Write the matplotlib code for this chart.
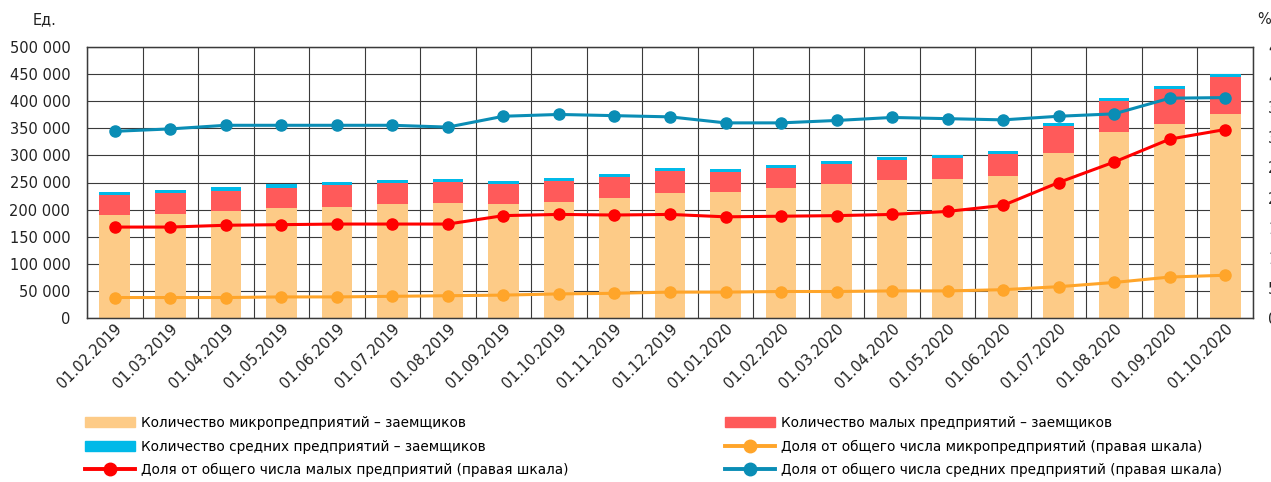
import matplotlib.pyplot as plt
import numpy as np
from matplotlib.ticker import FuncFormatter
from matplotlib.patches import Patch
from matplotlib.lines import Line2D
from matplotlib.transforms import ScaledTranslation

dates = ['01.02.2019', '01.03.2019', '01.04.2019', '01.05.2019', '01.06.2019',
         '01.07.2019', '01.08.2019', '01.09.2019', '01.10.2019', '01.11.2019',
         '01.12.2019', '01.01.2020', '01.02.2020', '01.03.2020', '01.04.2020',
         '01.05.2020', '01.06.2020', '01.07.2020', '01.08.2020', '01.09.2020',
         '01.10.2020']

# количество заемщиков, ед.
micro = [190000, 192400, 197400, 202400, 205400, 209800, 212700, 209800, 214600, 222000,
         231200, 232500, 239300, 246700, 254100, 256500, 262000, 303900, 343700, 357400, 377000]
small = [37500, 37700, 37500, 38000, 39400, 38700, 37700, 38000, 38700, 38200,
         39500, 37400, 37500, 38000, 37400, 39300, 41100, 49800, 56700, 64600, 67100]
medium = [5500, 6100, 6800, 6800, 5600, 6100, 6100, 5500, 5600, 5500,
          5500, 5600, 4900, 5000, 5600, 5500, 5600, 5500, 5500, 6000, 6700]

# доли, %
share_micro = [3.4, 3.4, 3.4, 3.5, 3.5, 3.6, 3.7, 3.8, 4.0, 4.1, 4.3,
               4.3, 4.4, 4.4, 4.5, 4.5, 4.7, 5.2, 5.9, 6.8, 7.1]
share_small = [15.1, 15.1, 15.4, 15.5, 15.6, 15.6, 15.6, 17.0, 17.2, 17.1, 17.2,
               16.8, 16.9, 17.0, 17.2, 17.7, 18.7, 22.5, 25.9, 29.7, 31.3]
share_medium = [31.0, 31.4, 32.0, 32.0, 32.0, 32.0, 31.7, 33.5, 33.8, 33.6, 33.4,
                32.4, 32.4, 32.8, 33.3, 33.1, 32.9, 33.5, 33.9, 36.5, 36.6]

labels = ['Количество микропредприятий – заемщиков',
          'Количество средних предприятий – заемщиков',
          'Доля от общего числа малых предприятий (правая шкала)',
          'Количество малых предприятий – заемщиков',
          'Доля от общего числа микропредприятий (правая шкала)',
          'Доля от общего числа средних предприятий (правая шкала)']

c_micro = '#FDCB87'
c_small = '#FF5A5A'
c_medium = '#00B9E8'
c_l_micro = '#FFA52A'
c_l_small = '#FF0000'
c_l_medium = '#0A8DB5'
grid_c = '#3a3a3a'

plt.rcParams['font.family'] = 'DejaVu Sans'
plt.rcParams['font.size'] = 10

fig = plt.figure(figsize=(12.71, 4.82), dpi=100)
ax = fig.add_axes([87 / 1271, 1 - 318 / 482, (1253 - 87) / 1271, (318 - 47) / 482])

x = np.arange(len(dates))
w = 0.55
bottom2 = np.array(micro) + np.array(small)
ax.bar(x, micro, w, color=c_micro, zorder=2)
ax.bar(x, small, w, bottom=micro, color=c_small, zorder=2)
ax.bar(x, medium, w, bottom=bottom2, color=c_medium, zorder=2)

ax.set_xlim(-0.5, len(dates) - 0.5)
ax.set_ylim(0, 500000)
ax.set_yticks(np.arange(0, 500001, 50000))
ax.yaxis.set_major_formatter(FuncFormatter(lambda v, p: f'{int(v):,}'.replace(',', ' ')))
ax.set_xticks(x)
ax.set_xticklabels(dates, rotation=45, ha='right', va='center', rotation_mode='anchor')
ax.set_xticks(np.arange(-0.5, len(dates)), minor=True)
ax.grid(axis='x', which='minor', color=grid_c, lw=0.8, zorder=0)
ax.grid(axis='y', which='major', color=grid_c, lw=0.8, zorder=0)
ax.tick_params(axis='both', which='both', length=0)
ax.tick_params(axis='y', pad=12, labelsize=10.5, colors='#222222')
ax.tick_params(axis='x', pad=6, labelsize=10.5, colors='#222222')
# сдвиг подписей дат чуть вправо
shift = ScaledTranslation(5 / 100, 0, fig.dpi_scale_trans)
for lbl in ax.get_xticklabels():
    lbl.set_transform(lbl.get_transform() + shift)
for s in ax.spines.values():
    s.set_color(grid_c)
    s.set_linewidth(1.0)

ax2 = ax.twinx()
ax2.set_ylim(0, 45)
ax2.set_yticks(np.arange(0, 46, 5))
ax2.tick_params(axis='y', length=0, pad=11, labelsize=10.5, colors='#222222')
for s in ax2.spines.values():
    s.set_color(grid_c)
ax2.plot(x, share_micro, color=c_l_micro, lw=2.2, marker='o', ms=8, zorder=3)
ax2.plot(x, share_small, color=c_l_small, lw=2.2, marker='o', ms=8, zorder=3)
ax2.plot(x, share_medium, color=c_l_medium, lw=2.2, marker='o', ms=8, zorder=3)

fig.text(33 / 1271, 1 - 20 / 482, 'Ед.', fontsize=10.5, va='center', color='#222222')
fig.text(1257 / 1271, 1 - 20 / 482, '%', fontsize=10.5, va='center', color='#222222')

h1 = [Patch(color=c_micro), Patch(color=c_medium),
      Line2D([], [], color=c_l_small, lw=2.8, marker='o', ms=9)]
h2 = [Patch(color=c_small),
      Line2D([], [], color=c_l_micro, lw=2.8, marker='o', ms=9),
      Line2D([], [], color=c_l_medium, lw=2.8, marker='o', ms=9)]
leg_kw = dict(loc='upper left', frameon=False, borderpad=0, borderaxespad=0,
              handlelength=3.7, handletextpad=0.4, labelspacing=0.7, fontsize=9.8)
fig.legend(h1, labels[:3], bbox_to_anchor=(85 / 1271, 1 - 416 / 482), **leg_kw)
fig.legend(h2, labels[3:], bbox_to_anchor=(725 / 1271, 1 - 416 / 482), **leg_kw)

fig.savefig('out.png', dpi=100)
